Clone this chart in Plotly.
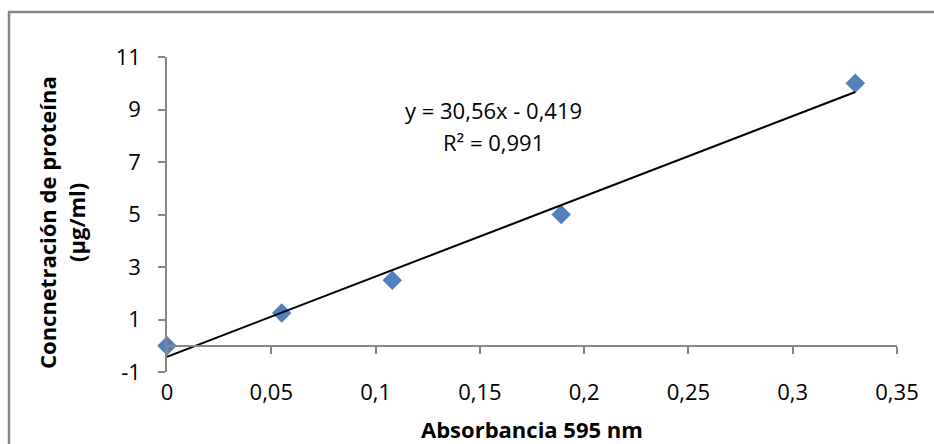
import plotly.graph_objects as go
import numpy as np

# Data
absorbance = [0.0, 0.055, 0.108, 0.189, 0.33]
concentration = [0.0, 1.25, 2.5, 5.0, 10.0]
slope = 30.56
intercept = -0.419
r_squared = 0.991

x_ticks = [0, 0.05, 0.1, 0.15, 0.2, 0.25, 0.3, 0.35]
x_ticklabels = ["0", "0,05", "0,1", "0,15", "0,2", "0,25", "0,3", "0,35"]
y_ticks = [-1, 1, 3, 5, 7, 9, 11]
y_ticklabels = ["-1", "1", "3", "5", "7", "9", "11"]

FONT = "Open Sans"
AXIS_COLOR = "#868686"
TICK_SIZE = 22
TITLE_SIZE = 22

trend_x = np.array([min(absorbance), max(absorbance)])
trend_y = slope * trend_x + intercept

fig = go.Figure()
fig.add_trace(go.Scatter(
    x=trend_x, y=trend_y, mode="lines",
    line=dict(color="black", width=2),
    xaxis="x2", yaxis="y", showlegend=False, hoverinfo="skip",
    cliponaxis=False,
))
fig.add_trace(go.Scatter(
    x=absorbance, y=concentration, mode="markers",
    marker=dict(symbol="diamond", size=15, color="#4F81BD", line=dict(width=0)),
    showlegend=False, cliponaxis=False,
))

L, R, T, B = 167, 37, 57, 72
W, H = 934, 444
pw = W - L - R
ph = H - T - B

fig.update_layout(
    width=W, height=H,
    margin=dict(l=L, r=R, t=T, b=B, pad=0),
    paper_bgcolor="white", plot_bgcolor="white",
    font=dict(family=FONT, size=TICK_SIZE, color="black"),
    xaxis=dict(
        range=[0, 0.35], tickvals=x_ticks, ticktext=x_ticklabels,
        showline=False, ticks="", showgrid=False, zeroline=False,
        ticklabelstandoff=5, tickfont=dict(size=TICK_SIZE),
    ),
    xaxis2=dict(
        matches="x", overlaying="x", anchor="free",
        position=(0 - (-1)) / 12.0,
        range=[0, 0.35], tickvals=x_ticks,
        showline=True, linecolor=AXIS_COLOR, linewidth=1.5,
        ticks="outside", ticklen=7, tickcolor=AXIS_COLOR, tickwidth=1.5,
        showticklabels=False, showgrid=False, zeroline=False,
    ),
    yaxis=dict(
        range=[-1, 11], tickvals=y_ticks, ticktext=y_ticklabels,
        showline=True, linecolor=AXIS_COLOR, linewidth=1.5,
        ticks="outside", ticklen=7, tickcolor=AXIS_COLOR, tickwidth=1.5,
        showgrid=False, zeroline=False, ticklabelstandoff=13,
        tickfont=dict(size=TICK_SIZE),
    ),
)

# Chart area border (extends beyond the visible window on right/bottom)
fig.add_shape(type="rect", xref="paper", yref="paper",
              x0=(9 - L) / pw, x1=(W + 20 - L) / pw,
              y0=-(B + 20) / ph, y1=1 + (T - 12) / ph,
              line=dict(color=AXIS_COLOR, width=2.5), fillcolor="rgba(0,0,0,0)", layer="below")

# Axis titles
fig.add_annotation(text="<b>Absorbancia 595 nm</b>", xref="paper", yref="paper",
                   x=0.5, y=0, yshift=-(429 - (H - B)), xanchor="center", yanchor="middle",
                   showarrow=False, font=dict(family=FONT, size=TITLE_SIZE, color="black"))
fig.add_annotation(text="<b>Concnetración de proteína</b>", xref="paper", yref="paper",
                   x=0, y=0.5, xshift=-(L - 47), yshift=-(223 - (T + ph / 2)),
                   xanchor="center", yanchor="middle", textangle=-90,
                   showarrow=False, font=dict(family=FONT, size=TITLE_SIZE, color="black"))
fig.add_annotation(text="<b>(µg/ml)</b>", xref="paper", yref="paper",
                   x=0, y=0.5, xshift=-(L - 76), yshift=-(223 - (T + ph / 2)),
                   xanchor="center", yanchor="middle", textangle=-90,
                   showarrow=False, font=dict(family=FONT, size=TITLE_SIZE, color="black"))

# Trendline equation
eq_text = "y = " + f"{slope:.2f}".replace(".", ",") + "x - " + f"{abs(intercept):.3f}".replace(".", ",")
r2_text = "R² = " + f"{r_squared:.3f}".replace(".", ",")
fig.add_annotation(text=eq_text, xref="paper", yref="paper",
                   x=(493 - L) / pw, y=(H - B - 110) / ph, xanchor="center", yanchor="middle",
                   showarrow=False, font=dict(family=FONT, size=TICK_SIZE, color="black"))
fig.add_annotation(text=r2_text, xref="paper", yref="paper",
                   x=(493 - L) / pw, y=(H - B - 142) / ph, xanchor="center", yanchor="middle",
                   showarrow=False, font=dict(family=FONT, size=TICK_SIZE, color="black"))

fig.write_html("out.html", config={"displayModeBar": False},
               post_script="document.body.style.margin='0px';")
